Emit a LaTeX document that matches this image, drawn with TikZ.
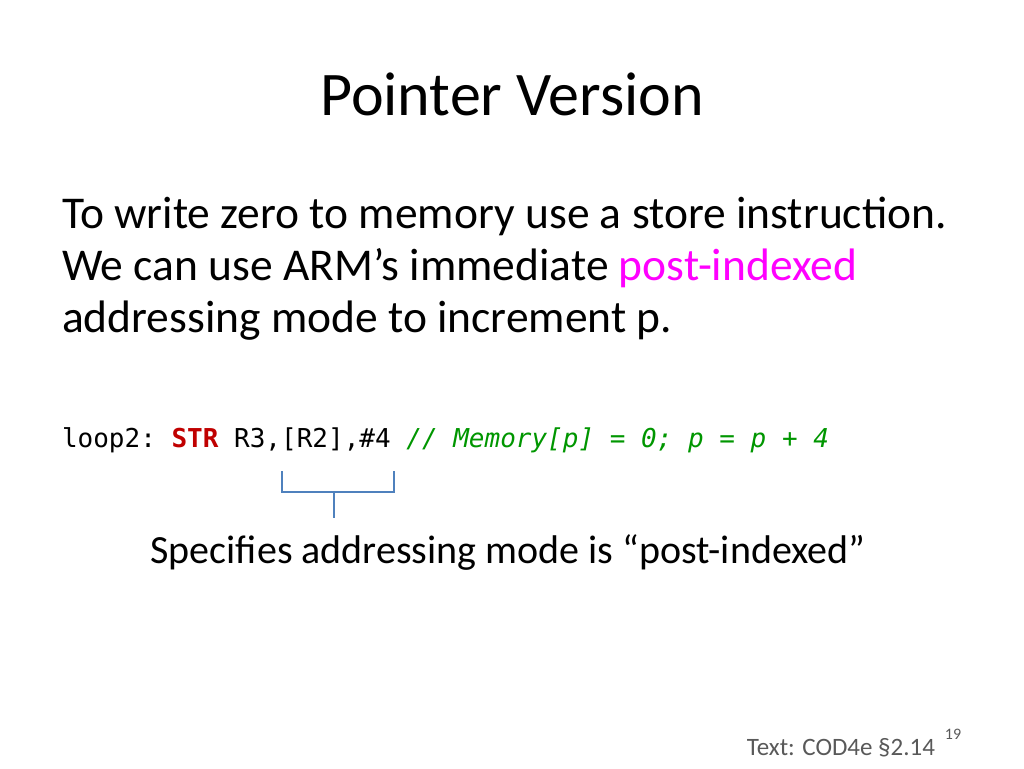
\documentclass[tikz,border=0pt]{standalone}
\usepackage{fontspec}
\setmainfont{Carlito}
\setmonofont{DejaVu Sans Mono}
\definecolor{mag}{RGB}{255,0,255}
\definecolor{strred}{RGB}{192,0,0}
\definecolor{cgreen}{RGB}{0,150,0}
\definecolor{brk}{RGB}{79,129,189}
\begin{document}
\begin{tikzpicture}[x=1pt,y=-1pt,every node/.style={inner sep=0pt,outer sep=0pt},
  body/.style={anchor=base west,font=\fontsize{45.5}{50}\selectfont}]
\useasboundingbox (0,0) rectangle (1024,768);
\node[anchor=base,font=\fontsize{62}{70}\selectfont] (title) at (512,115) {Pointer Version};
\node[body] (l1) at (62,228) {To write zero to memory use a store instruction.};
\node[body] (l2) at (62,280) {We can use ARM’s immediate \textcolor{mag}{post-indexed}};
\node[body] (l3) at (62,332) {addressing mode to increment p.};
\node[anchor=base west,font=\ttfamily\fontsize{26}{30}\selectfont] (code) at (62,447)
 {loop2: \textcolor{strred}{\bfseries STR} R3,[R2],\#4 \textcolor{cgreen}{\itshape // Memory[p] = 0; p = p + 4}};
\coordinate (bl) at (282,471);
\coordinate (br) at (394,471);
\coordinate (bs) at (334,518);
\draw[brk,line width=2.5pt] (bl) |- (338,492) -| (br);
\draw[brk,line width=2.5pt] (334,492) -- (bs);
\node[anchor=base,font=\fontsize{40}{46}\selectfont] (spec) at (508,563) {Specifies addressing mode is “post-indexed”};
\node[anchor=base east,font=\fontsize{25}{28}\selectfont,text=black!65] (foot) at (935,755) {Text: COD4e §2.14};
\node[anchor=base,font=\fontsize{16}{18}\selectfont,text=black!65] (num) at (953,739) {19};
\end{tikzpicture}
\end{document}
